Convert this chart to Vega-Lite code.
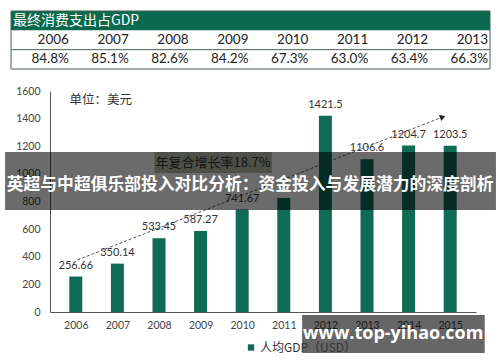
{
  "$schema": "https://vega.github.io/schema/vega-lite/v6.json",
  "background": "white",
  "autosize": "none",
  "width": 426,
  "height": 221,
  "padding": {"left": 50, "top": 91, "right": 24, "bottom": 50},
  "config": {
    "view": {"stroke": null},
    "font": "Noto Sans CJK SC",
    "axis": {"labelOverlap": false}
  },
  "datasets": {
    "share": [
      {"year": 2006, "pct": "84.8%"},
      {"year": 2007, "pct": "85.1%"},
      {"year": 2008, "pct": "82.6%"},
      {"year": 2009, "pct": "84.2%"},
      {"year": 2010, "pct": "67.3%"},
      {"year": 2011, "pct": "63.0%"},
      {"year": 2012, "pct": "63.4%"},
      {"year": 2013, "pct": "66.3%"}
    ],
    "gdp": [
      {"year": 2006, "value": 256.66, "label": "256.66", "series": "人均GDP（USD）"},
      {"year": 2007, "value": 350.14, "label": "350.14", "series": "人均GDP（USD）"},
      {"year": 2008, "value": 533.45, "label": "533.45", "series": "人均GDP（USD）"},
      {"year": 2009, "value": 587.27, "label": "587.27", "series": "人均GDP（USD）"},
      {"year": 2010, "value": 741.67, "label": "741.67", "series": "人均GDP（USD）"},
      {"year": 2011, "value": 826, "label": "", "series": "人均GDP（USD）"},
      {"year": 2012, "value": 1421.5, "label": "1421.5", "series": "人均GDP（USD）"},
      {"year": 2013, "value": 1106.6, "label": "1106.6", "series": "人均GDP（USD）"},
      {"year": 2014, "value": 1204.7, "label": "1204.7", "series": "人均GDP（USD）"},
      {"year": 2015, "value": 1203.5, "label": "1203.5", "series": "人均GDP（USD）"}
    ]
  },
  "resolve": {"scale": {"x": "independent", "y": "independent"}},
  "layer": [
    {
      "layer": [
        {
          "data": {"values": [{}]},
          "mark": {"type": "rect", "color": "#0b6a4e", "clip": false},
          "encoding": {
            "x": {"datum": 2005, "type": "quantitative", "scale": {"domain": [2005.651, 2012.766], "nice": false, "zero": false}, "axis": null},
            "x2": {"datum": 2013},
            "y": {"datum": 2, "type": "quantitative", "scale": {"domain": [-12.569, -1.138], "nice": false, "zero": false}, "axis": null},
            "y2": {"datum": 3}
          }
        },
        {
          "data": {"values": [{}]},
          "mark": {"type": "rect", "fill": null, "fillOpacity": 0, "stroke": "#4a5f55", "strokeWidth": 1, "clip": false},
          "encoding": {
            "x": {"datum": 2005, "type": "quantitative"},
            "x2": {"datum": 2013},
            "y": {"datum": 0, "type": "quantitative"},
            "y2": {"datum": 3}
          }
        },
        {
          "data": {"values": [{}]},
          "mark": {"type": "rule", "stroke": "#4a5f55", "strokeWidth": 1, "clip": false},
          "encoding": {
            "x": {"datum": 2005, "type": "quantitative"},
            "x2": {"datum": 2013},
            "y": {"datum": 1, "type": "quantitative"}
          }
        },
        {
          "data": {"values": [{"title": "最终消费支出占GDP"}]},
          "mark": {"type": "text", "align": "left", "baseline": "middle", "dx": 2, "fontSize": 14, "color": "white"},
          "encoding": {
            "x": {"datum": 2005, "type": "quantitative"},
            "y": {"datum": 2.5, "type": "quantitative"},
            "text": {"field": "title"}
          }
        },
        {
          "data": {"name": "share"},
          "mark": {"type": "text", "align": "right", "baseline": "middle", "dx": -2, "fontSize": 13.5, "font": "Lato", "color": "#222222"},
          "encoding": {
            "x": {"field": "year", "type": "quantitative"},
            "y": {"datum": 1.5, "type": "quantitative"},
            "text": {"field": "year", "type": "quantitative", "format": "d"}
          }
        },
        {
          "data": {"name": "share"},
          "mark": {"type": "text", "align": "right", "baseline": "middle", "dx": -2, "fontSize": 13.5, "font": "Lato", "color": "#222222"},
          "encoding": {
            "x": {"field": "year", "type": "quantitative"},
            "y": {"datum": 0.5, "type": "quantitative"},
            "text": {"field": "pct"}
          }
        }
      ]
    },
    {
      "layer": [
        {
          "data": {"name": "gdp"},
          "mark": {"type": "bar", "width": 13},
          "encoding": {
            "x": {
              "field": "year", "type": "quantitative",
              "scale": {"domain": [2005.5, 2015.5], "nice": false, "zero": false},
              "axis": {"orient": "bottom", "values": [2006, 2007, 2008, 2009, 2010, 2011, 2012, 2013, 2014, 2015], "tickCount": 12, "format": "d", "title": null, "grid": false, "ticks": false, "labelPadding": 8, "labelFont": "Lato", "labelFontSize": 10.5, "labelColor": "#444444", "domainColor": "#555555", "labelFlush": false, "labelOverlap": false}
            },
            "y": {
              "field": "value", "type": "quantitative",
              "scale": {"domain": [0, 1600], "nice": false},
              "axis": {"orient": "left", "values": [0, 200, 400, 600, 800, 1000, 1200, 1400, 1600], "tickCount": 10, "format": "d", "title": null, "grid": false, "ticks": false, "labelPadding": 10, "labelFont": "Lato", "labelFontSize": 10.5, "labelColor": "#444444", "domainColor": "#555555", "labelOverlap": false}
            },
            "color": {
              "field": "series", "type": "nominal",
              "scale": {"range": ["#0f6b55"]},
              "legend": {"title": null, "orient": "none", "legendX": 195, "legendY": 250.5, "direction": "horizontal", "symbolType": "square", "symbolSize": 40, "labelFontSize": 12, "labelColor": "#333333", "labelOffset": 3, "padding": 0, "zindex": 0}
            }
          }
        },
        {
          "data": {"name": "gdp"},
          "mark": {"type": "text", "baseline": "middle", "dy": -11, "fontSize": 11, "font": "Lato", "color": "#333333"},
          "encoding": {
            "x": {"field": "year", "type": "quantitative"},
            "y": {"field": "value", "type": "quantitative"},
            "text": {"field": "label"}
          }
        },
        {
          "data": {"values": [{}]},
          "mark": {"type": "rule", "strokeDash": [3, 2], "stroke": "#555555", "strokeWidth": 1},
          "encoding": {
            "x": {"datum": 2006.04, "type": "quantitative"},
            "y": {"datum": 377, "type": "quantitative"},
            "x2": {"datum": 2014.82},
            "y2": {"datum": 1412}
          }
        },
        {
          "data": {"values": [{}]},
          "mark": {"type": "point", "shape": "triangle-right", "filled": true, "color": "#222222", "size": 40, "angle": 339, "opacity": 1},
          "encoding": {
            "x": {"datum": 2014.82, "type": "quantitative"},
            "y": {"datum": 1412, "type": "quantitative"}
          }
        },
        {
          "data": {"values": [{"unit": "单位：美元"}]},
          "mark": {"type": "text", "align": "left", "baseline": "middle", "fontSize": 12.5, "color": "#333333"},
          "encoding": {
            "x": {"datum": 2005.85, "type": "quantitative"},
            "y": {"datum": 1536, "type": "quantitative"},
            "text": {"field": "unit"}
          }
        },
        {
          "data": {"values": [{}]},
          "mark": {"type": "rect", "color": "#b8bfaa"},
          "encoding": {
            "x": {"datum": 2007.89, "type": "quantitative"},
            "x2": {"datum": 2010.71},
            "y": {"datum": 1158, "type": "quantitative"},
            "y2": {"datum": 1006}
          }
        },
        {
          "data": {"values": [{"t": "年复合增长率18.7%"}]},
          "mark": {"type": "text", "align": "center", "baseline": "middle", "fontSize": 13, "color": "#333333"},
          "encoding": {
            "x": {"datum": 2009.3, "type": "quantitative"},
            "y": {"datum": 1080, "type": "quantitative"},
            "text": {"field": "t"}
          }
        },
        {
          "data": {"values": [{}]},
          "mark": {"type": "rect", "color": "#000000", "opacity": 0.58, "clip": false},
          "encoding": {
            "x": {"datum": 2004.3, "type": "quantitative"},
            "x2": {"datum": 2016.1},
            "y": {"datum": 1158, "type": "quantitative"},
            "y2": {"datum": 738}
          }
        },
        {
          "data": {"values": [{"t": "英超与中超俱乐部投入对比分析：资金投入与发展潜力的深度剖析"}]},
          "mark": {"type": "text", "align": "center", "baseline": "middle", "fontSize": 16.8, "fontWeight": "bold", "color": "white"},
          "encoding": {
            "x": {"datum": 2010.19, "type": "quantitative"},
            "y": {"datum": 919, "type": "quantitative"},
            "text": {"field": "t"}
          }
        },
        {
          "data": {"values": [{}]},
          "mark": {"type": "rect", "color": "#000000", "opacity": 0.6, "clip": false},
          "encoding": {
            "x": {"datum": 2011.44, "type": "quantitative"},
            "x2": {"datum": 2015.83},
            "y": {"datum": -22, "type": "quantitative"},
            "y2": {"datum": -297}
          }
        },
        {
          "data": {"values": [{"t": "www.top-yihao.com"}]},
          "mark": {"type": "text", "align": "center", "baseline": "middle", "fontSize": 18, "fontWeight": "bold", "font": "Open Sans", "color": "white"},
          "encoding": {
            "x": {"datum": 2013.63, "type": "quantitative"},
            "y": {"datum": -160, "type": "quantitative"},
            "text": {"field": "t"}
          }
        }
      ]
    }
  ]
}
